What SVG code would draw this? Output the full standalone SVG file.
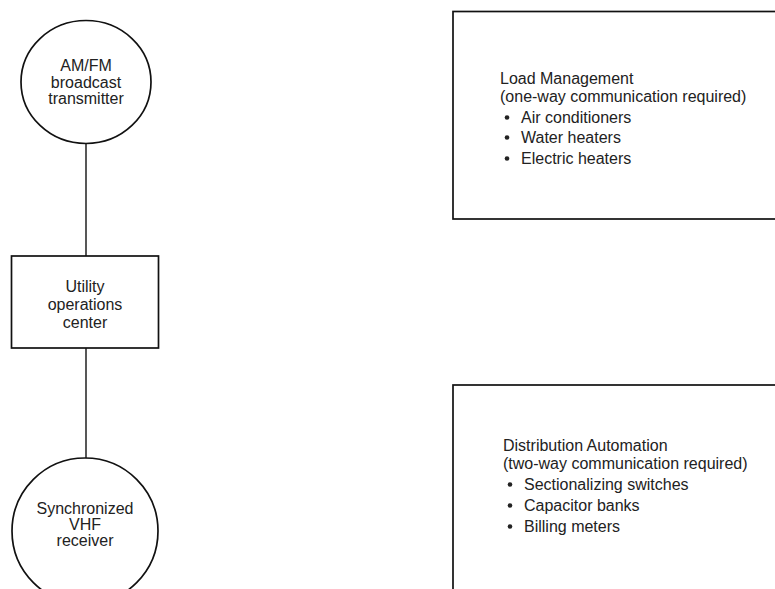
<svg xmlns="http://www.w3.org/2000/svg" width="775" height="589" viewBox="0 0 775 589">
<style>
  .shape { fill: #fff; stroke: #111; stroke-width: 1.7; }
  .edge { fill: none; stroke: #111; stroke-width: 1.4; }
  .t { font-family: "Liberation Sans", Arial, sans-serif; font-size: 16px; fill: #222; }
  .c { text-anchor: middle; }
  .dot { fill: #222; }
</style>
<rect width="775" height="589" fill="#fff"/>
<g id="connectors">
  <line class="edge" x1="86" y1="143" x2="86" y2="256"/>
  <line class="edge" x1="86" y1="348" x2="86" y2="458"/>
</g>
<g id="transmitter">
  <ellipse class="shape" cx="86" cy="82" rx="65" ry="61.5"/>
  <text class="t c" x="86" y="71">AM/FM</text>
  <text class="t c" x="86" y="87.5">broadcast</text>
  <text class="t c" x="86" y="104">transmitter</text>
</g>
<g id="operations">
  <rect class="shape" x="11.5" y="256" width="147" height="92"/>
  <text class="t c" x="85" y="292">Utility</text>
  <text class="t c" x="85" y="310">operations</text>
  <text class="t c" x="85" y="328">center</text>
</g>
<g id="receiver">
  <circle class="shape" cx="85" cy="531" r="73"/>
  <text class="t c" x="85" y="514">Synchronized</text>
  <text class="t c" x="85" y="530">VHF</text>
  <text class="t c" x="85" y="546">receiver</text>
</g>
<g id="load-management">
  <rect class="shape" x="453" y="11.5" width="340" height="207.5"/>
  <text class="t" x="500" y="84">Load Management</text>
  <text class="t" x="500" y="102">(one-way communication required)</text>
  <circle class="dot" cx="507" cy="117.5" r="2.3"/>
  <text class="t" x="521" y="123">Air conditioners</text>
  <circle class="dot" cx="507" cy="137.5" r="2.3"/>
  <text class="t" x="521" y="143">Water heaters</text>
  <circle class="dot" cx="507" cy="158.5" r="2.3"/>
  <text class="t" x="521" y="164">Electric heaters</text>
</g>
<g id="distribution-automation">
  <rect class="shape" x="453" y="385" width="340" height="220"/>
  <text class="t" x="503" y="451">Distribution Automation</text>
  <text class="t" x="503" y="469">(two-way communication required)</text>
  <circle class="dot" cx="510" cy="484.5" r="2.3"/>
  <text class="t" x="524" y="490">Sectionalizing switches</text>
  <circle class="dot" cx="510" cy="505.5" r="2.3"/>
  <text class="t" x="524" y="511">Capacitor banks</text>
  <circle class="dot" cx="510" cy="526.5" r="2.3"/>
  <text class="t" x="524" y="532">Billing meters</text>
</g>
</svg>
